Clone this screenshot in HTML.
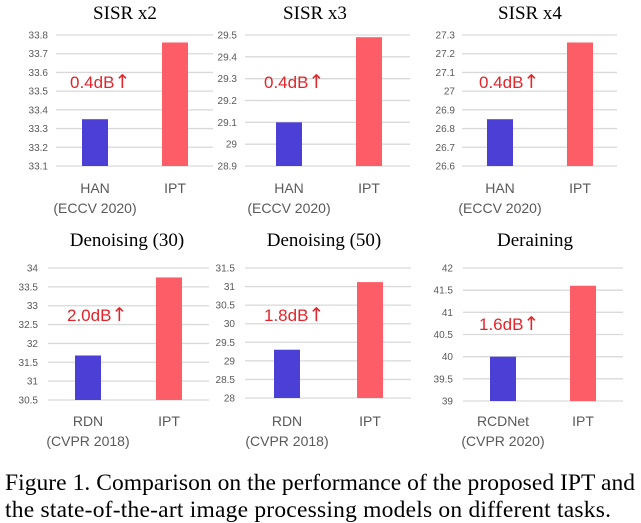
<!DOCTYPE html>
<html><head><meta charset="utf-8"><style>
body{margin:0;background:#fff;width:641px;height:523px;overflow:hidden}
svg{display:block}
.tick{font:10px "Liberation Sans",sans-serif;fill:#595959}
.cat{font:14px "Liberation Sans",sans-serif;fill:#595959}
.ttl{font:19px "Liberation Serif",serif;fill:#000}
.ann{font:17px "Liberation Sans",sans-serif;fill:#e3242b}
.arr{font:19px "DejaVu Sans",sans-serif}
.cap{font:23.5px "Liberation Serif",serif;fill:#000}
</style></head><body>
<svg id="fig" width="641" height="523" xmlns="http://www.w3.org/2000/svg">
<text class="cap" x="5" y="490" textLength="630">Figure 1. Comparison on the performance of the proposed IPT and</text>
<text class="cap" x="5" y="517" textLength="606">the state-of-the-art image processing models on different tasks.</text>
</svg>
<script>
// chart data
const titles = ["SISR x2","SISR x3","SISR x4","Denoising (30)","Denoising (50)","Deraining"];
const baselineNames = ["HAN","HAN","HAN","RDN","RDN","RCDNet"];
const baselineVenues = ["(ECCV 2020)","(ECCV 2020)","(ECCV 2020)","(CVPR 2018)","(CVPR 2018)","(CVPR 2020)"];
const baselineValues = [33.35, 29.10, 26.85, 31.68, 29.30, 40.00];
const iptValues = [33.76, 29.49, 27.26, 33.75, 31.12, 41.60];
const gainLabels = ["0.4dB","0.4dB","0.4dB","2.0dB","1.8dB","1.6dB"];
const axisMin = [33.1, 28.9, 26.6, 30.5, 28, 39];
const axisMax = [33.8, 29.5, 27.3, 34, 31.5, 42];
const axisStep = [0.1, 0.1, 0.1, 0.5, 0.5, 0.5];

// layout (not data)
const L = [
 {gx0:56,gx1:213,top:35,bot:166,lx:48,b1:82,b2:162,bw:26,tx:125,ty:19,cy:193,ax:70,ay:88},
 {gx0:245,gx1:410,top:35,bot:166,lx:237,b1:276,b2:356,bw:26,tx:315,ty:19,cy:193,ax:264,ay:88},
 {gx0:462,gx1:617,top:35,bot:166,lx:455,b1:487,b2:567,bw:26,tx:530,ty:19,cy:193,ax:479,ay:88},
 {gx0:48,gx1:209,top:268,bot:400,lx:38,b1:75,b2:156,bw:26,tx:127,ty:246,cy:426,ax:67,ay:321},
 {gx0:245,gx1:411,top:268,bot:398,lx:235,b1:274,b2:357,bw:26,tx:324,ty:246,cy:426,ax:264,ay:321},
 {gx0:463,gx1:623,top:268,bot:401,lx:453,b1:490,b2:570,bw:26,tx:535,ty:246,cy:426,ax:479,ay:330}
];
const NS="http://www.w3.org/2000/svg";
const svg=document.getElementById('fig');
function mk(tag,attrs,parent){const e=document.createElementNS(NS,tag);for(const k in attrs)e.setAttribute(k,attrs[k]);(parent||svg).appendChild(e);return e;}
titles.forEach((t,i)=>{
  const g=L[i];
  const y=v=>g.bot-(v-axisMin[i])/(axisMax[i]-axisMin[i])*(g.bot-g.top);
  const n=Math.round((axisMax[i]-axisMin[i])/axisStep[i]);
  for(let k=0;k<=n;k++){
    const v=axisMin[i]+k*axisStep[i];
    const gl=mk('line',{x1:g.gx0,x2:g.gx1,y1:y(v),y2:y(v),stroke:'#d9d9d9','stroke-width':1.3});
    
    
    const tl=mk('text',{x:g.lx,y:y(v)+3.5,'text-anchor':'end',class:'tick'});
    tl.textContent=String(parseFloat(v.toFixed(1)));
    
    
  }
  const b1=mk('rect',{x:g.b1,width:g.bw,y:y(baselineValues[i]),height:y(axisMin[i])-y(baselineValues[i]),fill:'#4b3fd6'});
  
  
  const b2=mk('rect',{x:g.b2,width:g.bw,y:y(iptValues[i]),height:y(axisMin[i])-y(iptValues[i]),fill:'#fd5d66'});
  
  
  const tt=mk('text',{x:g.tx,y:g.ty,'text-anchor':'middle',class:'ttl'});tt.textContent=t;
  
  
  const an=mk('text',{x:g.ax,y:g.ay,class:'ann'});
  
  
  an.appendChild(document.createTextNode(gainLabels[i]));
  const ar=mk('tspan',{class:'arr'},an);ar.textContent="↑";
  const c1=mk('text',{x:g.b1+g.bw/2,y:g.cy,'text-anchor':'middle',class:'cat'});c1.textContent=baselineNames[i];
  
  
  const c2=mk('text',{x:g.b1+g.bw/2,y:g.cy+20,'text-anchor':'middle',class:'cat'});c2.textContent=baselineVenues[i];
  
  
  const c3=mk('text',{x:g.b2+g.bw/2,y:g.cy,'text-anchor':'middle',class:'cat'});c3.textContent="IPT";
  
  
});
</script>
</body></html>
